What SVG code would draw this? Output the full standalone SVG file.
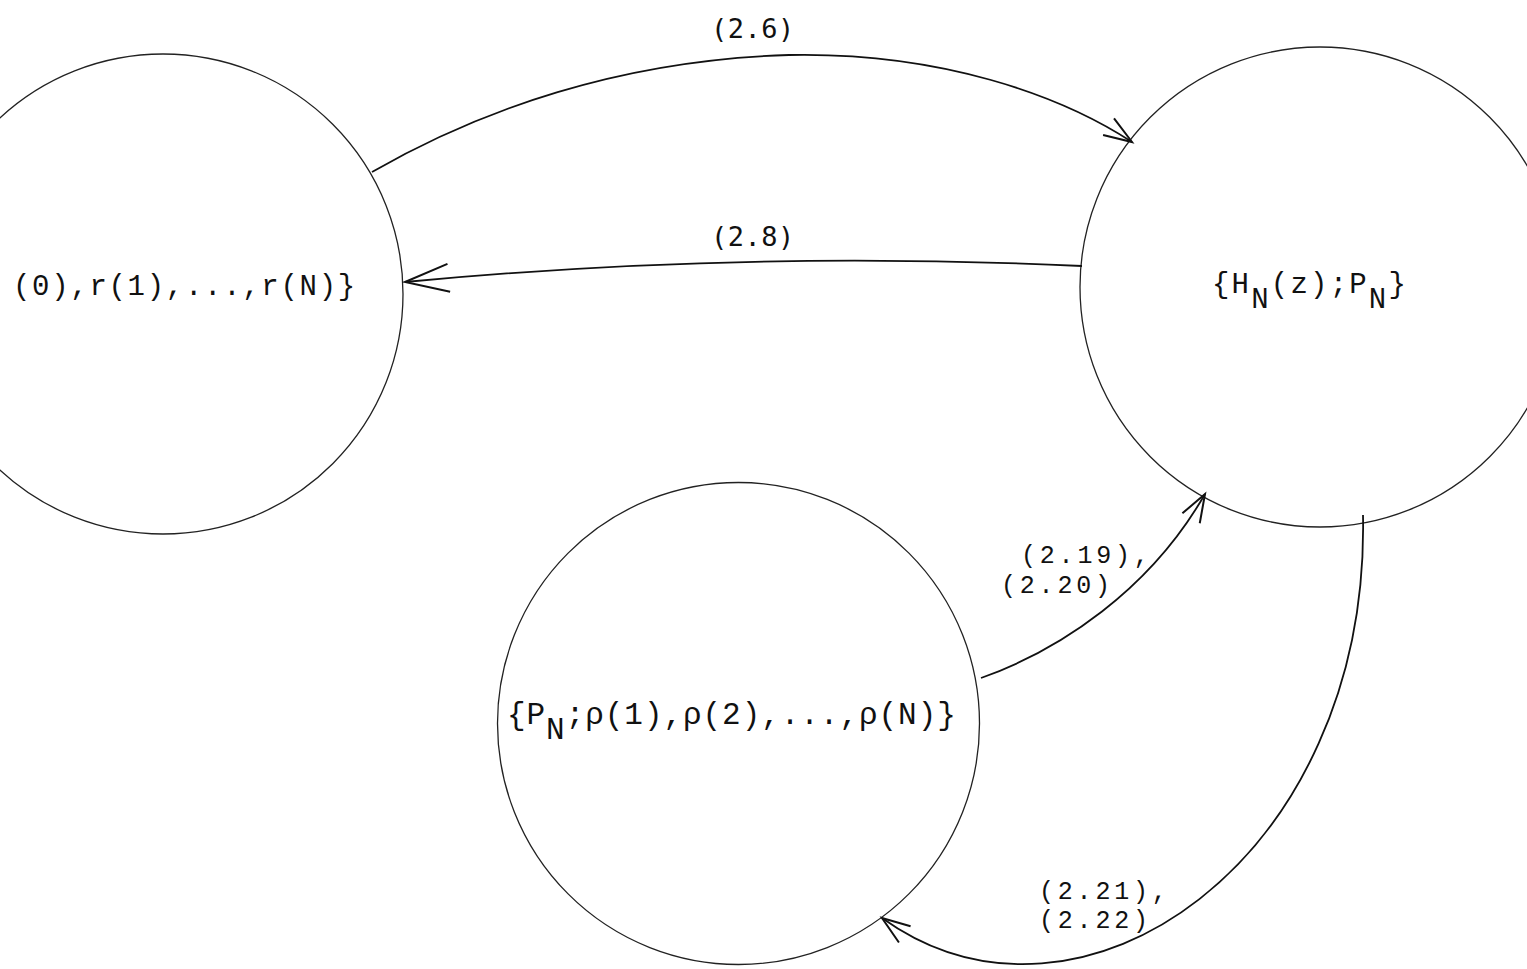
<svg xmlns="http://www.w3.org/2000/svg" width="1527" height="969" viewBox="0 0 1527 969">
  <style>
    .node { fill: none; stroke: #222; stroke-width: 1.3; }
    .edge { fill: none; stroke: #111; stroke-width: 1.8; }
    .txt { font-family: "Liberation Mono", "Courier New", monospace; fill: #111; }
    .nodetxt { font-size: 29px; letter-spacing: 1.7px; }
    .lbl { font-size: 25px; letter-spacing: 3.8px; }
    .lbl2 { font-family: "DejaVu Sans Mono", "Liberation Mono", monospace; font-size: 27px; letter-spacing: 0.5px; fill: #111; }
  </style>
  <defs>
    <marker id="arrS" markerUnits="userSpaceOnUse" viewBox="-35 -15 40 30" refX="0" refY="0" markerWidth="40" markerHeight="30" orient="auto" overflow="visible">
      <path d="M-28,-10 L0,0 L-28,10" fill="none" stroke="#111" stroke-width="2"/>
    </marker>
    <marker id="arrL" markerUnits="userSpaceOnUse" viewBox="-50 -20 55 40" refX="0" refY="0" markerWidth="55" markerHeight="40" orient="auto" overflow="visible">
      <path d="M-44,-14 L0,0 L-44,14" fill="none" stroke="#111" stroke-width="2"/>
    </marker>
  </defs>

  <rect width="1527" height="969" fill="#ffffff"/>

  <g id="node-r">
    <circle class="node" cx="163" cy="294" r="240"/>
    <text class="txt nodetxt" x="13" y="295">(0),r(1),...,r(N)}</text>
  </g>

  <g id="node-h">
    <circle class="node" cx="1320" cy="287" r="240"/>
    <text class="txt nodetxt" x="1212" y="293" style="letter-spacing:2.2px">{H<tspan dy="15">N</tspan><tspan dy="-15">(z);P</tspan><tspan dy="15">N</tspan><tspan dy="-15">}</tspan></text>
  </g>

  <g id="node-rho">
    <circle class="node" cx="738.5" cy="723.5" r="241"/>
    <text class="txt" x="507" y="724" style="font-size:31px;letter-spacing:0.95px">{P<tspan dy="15">N</tspan><tspan dy="-15">;ρ(1),ρ(2),...,ρ(N)}</tspan></text>
  </g>

  <g id="connectors">
    <path class="edge" d="M372,172 C480,110 620,60 789,55 C940,52 1060,95 1132,142" marker-end="url(#arrS)"/>
    <text class="lbl2" x="711" y="38">(2.6)</text>

    <path class="edge" d="M1082,266 Q740,250 405,282" marker-end="url(#arrL)"/>
    <text class="lbl2" x="711" y="246">(2.8)</text>

    <path class="edge" d="M981,678 C1060,650 1150,590 1205,494" marker-end="url(#arrS)"/>
    <text class="txt lbl" x="1021" y="563">(2.19),</text>
    <text class="txt lbl" x="1001" y="593">(2.20)</text>

    <path class="edge" d="M1363,515 C1370,860 1080,1060 882,918" marker-end="url(#arrS)"/>
    <text class="txt lbl" x="1039" y="899">(2.21),</text>
    <text class="txt lbl" x="1039" y="928">(2.22)</text>
  </g>
</svg>
